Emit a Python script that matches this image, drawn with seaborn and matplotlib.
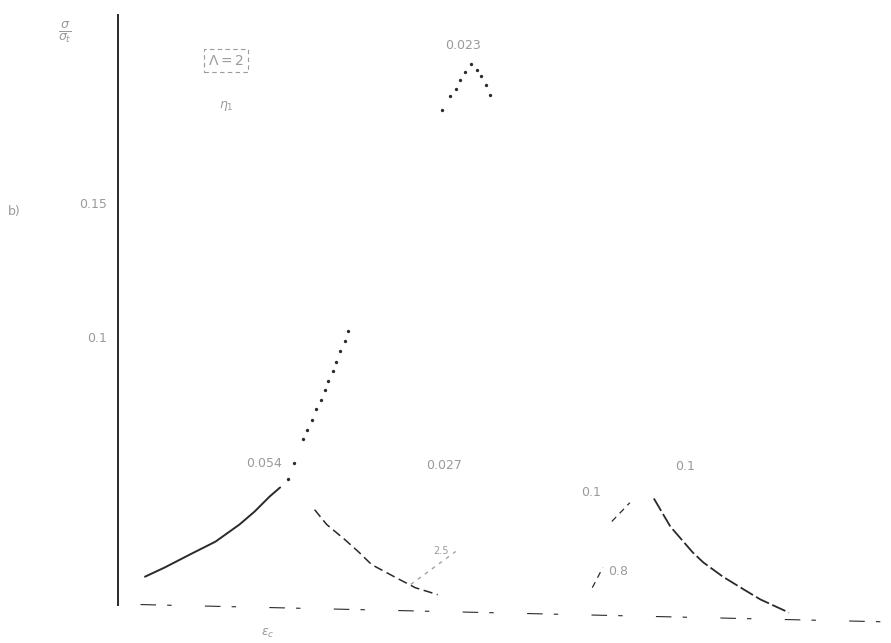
import matplotlib
matplotlib.use('Agg')
import matplotlib.pyplot as plt
import seaborn as sns
import numpy as np

# ------------------------------------------------------------------
# Datos (x en unidades de eps_c, y = sigma/sigma_t)
# ------------------------------------------------------------------
subida_x = [0.18, 0.31, 0.48, 0.65, 0.81, 0.91, 1.01, 1.08]
subida_y = [0.0104, 0.0138, 0.0187, 0.0235, 0.0299, 0.0347, 0.0403, 0.0437]

punteada_x = [1.13, 1.17, 1.23, 1.26, 1.29, 1.32, 1.35, 1.38, 1.40, 1.43,
              1.45, 1.48, 1.51, 1.53]
punteada_y = [0.047, 0.053, 0.0616, 0.0652, 0.0687, 0.0728, 0.0765, 0.0800,
              0.0836, 0.0870, 0.0907, 0.0945, 0.0985, 0.1022]

pico_x = [2.16, 2.21, 2.25, 2.28, 2.31, 2.35, 2.39, 2.42, 2.45, 2.48]
pico_y = [0.1847, 0.1896, 0.1925, 0.1959, 0.1989, 0.2019, 0.1996, 0.1974,
          0.1940, 0.1903]

bajada_x = [1.31, 1.39, 1.51, 1.60, 1.69, 1.85, 1.98, 2.13]
bajada_y = [0.0354, 0.0299, 0.0243, 0.0198, 0.0149, 0.0101, 0.0063, 0.0037]

tramo_x = [1.95, 2.25]
tramo_y = [0.0075, 0.0198]

der_a_x = [3.29, 3.41]
der_a_y = [0.031, 0.038]
der_b_x = [3.16, 3.23]
der_b_y = [0.0063, 0.0138]

caida_x = [3.57, 3.68, 3.83, 3.90, 4.03, 4.17, 4.28, 4.47]
caida_y = [0.0396, 0.0291, 0.0194, 0.0157, 0.0104, 0.0056, 0.0019, -0.003]

base_x = [0.15, 5.15]
base_y = [0.0, -0.0065]

yticks = [0.05, 0.1, 0.15]
ytick_labels = ["", "0.1", "0.15"]

# ------------------------------------------------------------------
sns.set_style("white")
fig = plt.figure(figsize=(8.91, 6.43), dpi=100)
ax = fig.add_axes([118 / 891, 1 - 626 / 643, 1 - 118 / 891, (626 - 15) / 643])

ink = "#2a2a2a"
gris = "#9a9a9a"

sns.lineplot(x=subida_x, y=subida_y, ax=ax, color=ink, linewidth=1.4)
sns.lineplot(x=punteada_x, y=punteada_y, ax=ax, color=ink, linestyle="none",
             marker="o", markersize=2.4, markeredgewidth=0)
sns.lineplot(x=pico_x, y=pico_y, ax=ax, color=ink, linestyle="none",
             marker="o", markersize=2.4, markeredgewidth=0, sort=False)
sns.lineplot(x=bajada_x, y=bajada_y, ax=ax, color=ink, linewidth=1.1,
             linestyle=(0, (6, 3)))
sns.lineplot(x=tramo_x, y=tramo_y, ax=ax, color=gris, linewidth=0.9,
             linestyle=(0, (3, 4)))
sns.lineplot(x=der_a_x, y=der_a_y, ax=ax, color=ink, linewidth=0.9,
             linestyle=(0, (5, 4)))
sns.lineplot(x=der_b_x, y=der_b_y, ax=ax, color=ink, linewidth=0.9,
             linestyle=(0, (5, 4)))
sns.lineplot(x=caida_x, y=caida_y, ax=ax, color=ink, linewidth=1.3,
             linestyle=(0, (8, 2)))
# eje x (escaneado, quebrado)
ax.plot(base_x, base_y, color=ink, linewidth=0.8, linestyle=(0, (14, 10, 4, 30)))

ax.set_xlim(0, 5.15)
ax.set_ylim(-0.008, 0.22)

sns.despine(ax=ax, top=True, right=True, bottom=True)
ax.spines['left'].set_bounds(0, 0.22)
ax.spines['left'].set_color(ink)
ax.spines['left'].set_linewidth(1.4)

ax.set_yticks(yticks)
ax.set_yticklabels(ytick_labels, color=gris, fontsize=9)
ax.tick_params(axis='y', direction='out', length=5, color=ink, pad=3)
ax.set_xticks([4.67])
ax.set_xticklabels([""])
ax.tick_params(axis='x', direction='out', length=8, color=ink)

# textos
txt = dict(color=gris, fontsize=9)
fig.text(65 / 891, 1 - 32 / 643, r"$\frac{\sigma}{\sigma_t}$", ha='center',
         va='center', color=gris, fontsize=13)
fig.text(14 / 891, 1 - 212 / 643, "b)", ha='center', va='center', **txt)
ax.text(0.72, 0.203, r"$\Lambda = 2$", ha='center', va='center', color=gris,
        fontsize=10, bbox=dict(boxstyle="square,pad=0.3", fc="white",
                               ec=gris, lw=0.8, ls=(0, (4, 3))))
ax.text(0.72, 0.186, r"$\eta_1$", ha='center', va='center', **txt)
ax.text(2.30, 0.2085, "0.023", ha='center', va='center', **txt)
ax.text(0.97, 0.0525, "0.054", ha='center', va='center', **txt)
ax.text(2.17, 0.0520, "0.027", ha='center', va='center', **txt)
ax.text(2.15, 0.0200, "2.5", ha='center', va='center', fontsize=7, color=gris)
ax.text(3.15, 0.0420, "0.1", ha='center', va='center', **txt)
ax.text(3.33, 0.0125, "0.8", ha='center', va='center', **txt)
ax.text(3.78, 0.0515, "0.1", ha='center', va='center', **txt)
ax.text(1.00, -0.0085, r"$\varepsilon_c$", ha='center', va='top', **txt)

fig.savefig("out.png", dpi=100)
